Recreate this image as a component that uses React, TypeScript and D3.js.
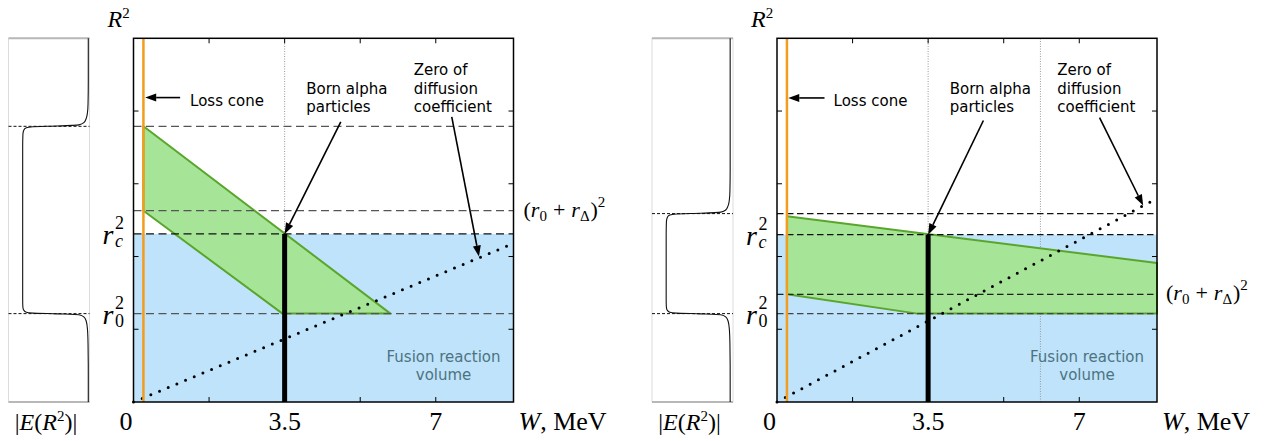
import { useEffect, useRef } from 'react'
import * as d3 from 'd3'

const W = 1265
const H = 441

// shared axes
const wMax = 8.8
const r2Max = 5
const xTicks = [1.75, 3.5, 5.25, 7]
const xTickValues = [0, 3.5, 7]
const xTickLabels = ['0', '3.5', '7']
const yTicks = [1, 2, 3, 4]

const lossCone = 0.23
const bornW = 3.5

// left panel (values in W [MeV], R^2 units)
const leftLevels = [3.79, 2.63, 2.31, 1.215] // top, (r0+rD)^2, rc^2, r0^2
const leftRc = 2.31
const leftRDelta = 2.63
const leftGreen: [number, number][] = [[0.23, 3.79], [5.95, 1.215], [3.45, 1.215], [0.23, 2.63]]
const leftDiffusion: [number, number][] = [[0, 0], [8.8, 2.18]]
const leftGrid = [3.5]
const leftEField: [number, number][] = [
  [0, 0.985], [0.4, 0.985], [0.8, 0.982], [1.0, 0.975], [1.11, 0.96], [1.17, 0.93], [1.2, 0.87],
  [1.212, 0.6], [1.222, 0.3], [1.235, 0.22], [1.26, 0.19], [1.3, 0.178], [1.4, 0.175],
  [3.5, 0.175], [3.68, 0.178], [3.74, 0.19], [3.77, 0.22], [3.785, 0.3], [3.795, 0.6],
  [3.81, 0.87], [3.84, 0.93], [3.9, 0.96], [3.98, 0.975], [4.1, 0.982], [4.4, 0.985], [5, 0.985]
]
const leftArrows: [number, number][][] = [
  [[1.08, 4.185], [0.27, 4.185]],
  [[4.8, 3.85], [3.5, 2.31]],
  [[7.37, 3.92], [8.0, 2.0]]
]

// right panel
const rightLevels = [2.59, 2.3, 1.48, 1.215]
const rightRc = 2.3
const rightRDelta = 1.48
const rightGreen: [number, number][] = [[0.23, 2.555], [8.8, 1.91], [8.8, 1.215], [3.25, 1.215], [0.23, 1.48]]
const rightDiffusion: [number, number][] = [[0, 0], [8.8, 2.8]]
const rightGrid = [3.5, 6.1]
const rightEField: [number, number][] = [
  [0, 0.965], [0.4, 0.965], [0.8, 0.962], [1.0, 0.955], [1.11, 0.94], [1.17, 0.91], [1.2, 0.85],
  [1.212, 0.6], [1.222, 0.3], [1.235, 0.22], [1.26, 0.19], [1.3, 0.178], [1.4, 0.175],
  [2.3, 0.175], [2.48, 0.178], [2.54, 0.19], [2.57, 0.22], [2.585, 0.3], [2.595, 0.6],
  [2.61, 0.85], [2.64, 0.91], [2.7, 0.94], [2.78, 0.955], [2.9, 0.962], [3.2, 0.965], [5, 0.965]
]
const rightArrows: [number, number][][] = [
  [[1.1, 4.18], [0.26, 4.18]],
  [[4.78, 3.87], [3.5, 2.3]],
  [[7.47, 3.91], [8.48, 2.7]]
]

// annotation text positions (W, R^2 baseline)
const lossText: [number, number] = [1.31, 4.07]
const bornLines = ['Born alpha', 'particles']
const bornPos: [number, number][] = [[4.0, 4.24], [4.0, 3.99]]
const zeroLines = ['Zero of', 'diffusion', 'coefficient']
const zeroPos: [number, number][] = [[6.49, 4.5], [6.49, 4.24], [6.49, 3.99]]
const fusionLines = ['Fusion reaction', 'volume']
const fusionPos: [number, number][] = [[7.18, 0.55], [7.18, 0.3]]

const panels = [
  { ox: 0, levels: leftLevels, levelColors: ['#555', '#555', '#111', '#555'], dash: '8,4.5', rc: leftRc, rDelta: leftRDelta,
    green: leftGreen, diffusion: leftDiffusion, grid: leftGrid, efield: leftEField, arrows: leftArrows, labelDx: 10 },
  { ox: 643.5, levels: rightLevels, levelColors: ['#111', '#111', '#222', '#444'], dash: '6.5,3.5', rc: rightRc, rDelta: rightRDelta,
    green: rightGreen, diffusion: rightDiffusion, grid: rightGrid, efield: rightEField, arrows: rightArrows, labelDx: 9 }
]

const frame = { left: 133.5, right: 513.5, top: 38.3, bottom: 402 }
const mini = { left: 8.5, right: 89.5 }

const sans = '"DejaVu Sans", sans-serif'
const serif = '"Liberation Serif", serif'

export default function App() {
  const svgRef = useRef<SVGSVGElement>(null)

  useEffect(() => {
    const svg = d3.select(svgRef.current)
    svg.selectAll('*').remove()

    panels.forEach(p => {
      const g = svg.append('g')
      const x = d3.scaleLinear().domain([0, wMax]).range([p.ox + frame.left, p.ox + frame.right])
      const y = d3.scaleLinear().domain([0, r2Max]).range([frame.bottom, frame.top])
      const ex = d3.scaleLinear().domain([0, 1]).range([p.ox + mini.left, p.ox + mini.right])

      // ---- mini panel |E(R^2)|
      g.append('rect')
        .attr('x', ex(0)).attr('y', frame.top)
        .attr('width', ex(1) - ex(0)).attr('height', frame.bottom - frame.top)
        .attr('fill', 'none').attr('stroke', '#dcdcdc').attr('stroke-width', 1)
      ;[frame.top, frame.bottom].forEach(v => {
        g.append('line').attr('x1', ex(0)).attr('x2', ex(1)).attr('y1', v).attr('y2', v)
          .attr('stroke', '#b8b8b8').attr('stroke-width', 2)
      })
      ;[p.levels[0], p.levels[3]].forEach(v => {
        g.append('line').attr('x1', ex(0)).attr('x2', ex(1)).attr('y1', y(v)).attr('y2', y(v))
          .attr('stroke', '#111').attr('stroke-width', 1).attr('stroke-dasharray', '3,2')
      })
      const eLine = d3.line<[number, number]>()
        .x(d => ex(d[1])).y(d => y(d[0]))
        .curve(d3.curveMonotoneY)
      g.append('path').attr('d', eLine([...p.efield].reverse()))
        .attr('fill', 'none').attr('stroke', '#111').attr('stroke-width', 1.1)

      const el = g.append('text').attr('x', (ex(0) + ex(1)) / 2 - 3).attr('y', 430)
        .attr('text-anchor', 'middle').style('font-family', serif).style('font-size', '24px')
      el.append('tspan').text('|')
      el.append('tspan').style('font-style', 'italic').text('E')
      el.append('tspan').text('(')
      el.append('tspan').style('font-style', 'italic').text('R')
      el.append('tspan').attr('dy', -9).style('font-size', '15px').text('2')
      el.append('tspan').attr('dy', 9).text(')|')

      // ---- main plot
      g.append('rect')
        .attr('x', x(0)).attr('y', y(p.rc))
        .attr('width', x(wMax) - x(0)).attr('height', y(0) - y(p.rc))
        .attr('fill', '#bee3fa')

      p.grid.forEach(v => {
        g.append('line').attr('x1', x(v)).attr('x2', x(v)).attr('y1', y(0)).attr('y2', y(r2Max))
          .attr('stroke', '#9a9a9a').attr('stroke-width', 1).attr('stroke-dasharray', '1,1.5')
      })

      g.append('path')
        .attr('d', d3.line()(p.green.map(d => [x(d[0]), y(d[1])]))! + 'Z')
        .attr('fill', '#a6e598').attr('stroke', '#5aa62c').attr('stroke-width', 2)
        .attr('stroke-linejoin', 'round')

      p.levels.forEach((v, i) => {
        g.append('line').attr('x1', x(0)).attr('x2', x(wMax)).attr('y1', y(v)).attr('y2', y(v))
          .attr('stroke', p.levelColors[i]).attr('stroke-width', 1.2)
          .attr('stroke-dasharray', p.dash)
      })

      g.append('path')
        .attr('d', d3.line()(p.diffusion.map(d => [x(d[0]), y(d[1])])))
        .attr('fill', 'none').attr('stroke', '#000').attr('stroke-width', 3)
        .attr('stroke-linecap', 'round').attr('stroke-dasharray', '0,9.4')

      g.append('line').attr('x1', x(bornW)).attr('x2', x(bornW)).attr('y1', y(0)).attr('y2', y(p.rc))
        .attr('stroke', '#000').attr('stroke-width', 5)

      g.append('line').attr('x1', x(lossCone)).attr('x2', x(lossCone)).attr('y1', y(0)).attr('y2', y(r2Max))
        .attr('stroke', '#f39c1e').attr('stroke-width', 2.5)

      // frame and inward ticks
      g.append('rect').attr('x', x(0)).attr('y', y(r2Max))
        .attr('width', x(wMax) - x(0)).attr('height', y(0) - y(r2Max))
        .attr('fill', 'none').attr('stroke', '#000').attr('stroke-width', 1.5)
      xTicks.forEach(t => {
        g.append('line').attr('x1', x(t)).attr('x2', x(t)).attr('y1', y(0)).attr('y2', y(0) - 5)
          .attr('stroke', '#000').attr('stroke-width', 1)
        g.append('line').attr('x1', x(t)).attr('x2', x(t)).attr('y1', y(r2Max)).attr('y2', y(r2Max) + 5)
          .attr('stroke', '#000').attr('stroke-width', 1)
      })
      yTicks.forEach(t => {
        g.append('line').attr('x1', x(0)).attr('x2', x(0) + 5).attr('y1', y(t)).attr('y2', y(t))
          .attr('stroke', '#000').attr('stroke-width', 1)
        g.append('line').attr('x1', x(wMax)).attr('x2', x(wMax) - 5).attr('y1', y(t)).attr('y2', y(t))
          .attr('stroke', '#000').attr('stroke-width', 1)
      })

      // arrows
      p.arrows.forEach(a => {
        const [x1, y1] = [x(a[0][0]), y(a[0][1])]
        const [x2, y2] = [x(a[1][0]), y(a[1][1])]
        const ang = Math.atan2(y2 - y1, x2 - x1)
        const len = 11, hw = 4
        const bx = x2 - len * Math.cos(ang), by = y2 - len * Math.sin(ang)
        g.append('line').attr('x1', x1).attr('y1', y1).attr('x2', bx).attr('y2', by)
          .attr('stroke', '#000').attr('stroke-width', 1.6)
        g.append('path')
          .attr('d', `M${x2},${y2}L${bx - hw * Math.sin(ang)},${by + hw * Math.cos(ang)}L${bx + hw * Math.sin(ang)},${by - hw * Math.cos(ang)}Z`)
          .attr('fill', '#000')
      })

      // annotation text
      const note = (t: string, pos: [number, number], anchor = 'start', color = '#000') =>
        g.append('text').attr('x', x(pos[0])).attr('y', y(pos[1])).attr('text-anchor', anchor)
          .style('font-family', sans).style('font-size', '15px').attr('fill', color).text(t)
      note('Loss cone', lossText)
      bornLines.forEach((t, i) => note(t, bornPos[i]))
      zeroLines.forEach((t, i) => note(t, zeroPos[i]))
      fusionLines.forEach((t, i) => note(t, fusionPos[i], 'middle', '#4d7381'))

      // x tick labels
      xTickValues.forEach((v, i) => {
        g.append('text').attr('x', i === 0 ? x(v) - 1 : x(v)).attr('y', 430)
          .attr('text-anchor', i === 0 ? 'end' : 'middle')
          .style('font-family', serif).style('font-size', '26px').text(xTickLabels[i])
      })
      const wl = g.append('text').attr('x', x(wMax) + 5).attr('y', 430)
        .style('font-family', serif).style('font-size', '26px')
      wl.append('tspan').style('font-style', 'italic').text('W')
      wl.append('tspan').text(', MeV')

      // R^2 axis label
      const rl = g.append('text').attr('x', x(0) - 26).attr('y', 27)
        .style('font-family', serif).style('font-size', '24px')
      rl.append('tspan').style('font-style', 'italic').text('R')
      rl.append('tspan').attr('dy', -9).style('font-size', '15px').text('2')

      // r_c^2, r_0^2 labels
      ;[[p.rc, 'c'], [p.levels[3], '0']].forEach(([v, sub]) => {
        const yy = y(v as number)
        g.append('text').attr('x', x(0) - 31).attr('y', yy + 10)
          .style('font-family', serif).style('font-size', '28px').style('font-style', 'italic').text('r')
        g.append('text').attr('x', x(0) - 18.5).attr('y', yy - 5)
          .style('font-family', serif).style('font-size', '18px').text('2')
        g.append('text').attr('x', x(0) - 18.5).attr('y', yy + 13)
          .style('font-family', serif).style('font-size', '18px')
          .style('font-style', sub === 'c' ? 'italic' : 'normal').text(sub as string)
      })

      // (r0 + rD)^2 label
      const dl = g.append('text').attr('x', x(wMax) + p.labelDx).attr('y', y(p.rDelta) + 6)
        .style('font-family', serif).style('font-size', '22px')
      dl.append('tspan').text('(')
      dl.append('tspan').style('font-style', 'italic').text('r')
      dl.append('tspan').attr('dy', 4).style('font-size', '15px').text('0')
      dl.append('tspan').attr('dy', -4).attr('dx', 6).text('+')
      dl.append('tspan').attr('dx', 6).style('font-style', 'italic').text('r')
      dl.append('tspan').attr('dy', 4).style('font-size', '15px').text('Δ')
      dl.append('tspan').attr('dy', -4).attr('dx', 1).text(')')
      dl.append('tspan').attr('dy', -10).style('font-size', '15px').text('2')
    })
  }, [])

  return (
    <div style={{ position: 'absolute', left: 0, top: 0 }}>
      <svg ref={svgRef} width={W} height={H} style={{ display: 'block', background: '#fff' }} />
    </div>
  )
}
